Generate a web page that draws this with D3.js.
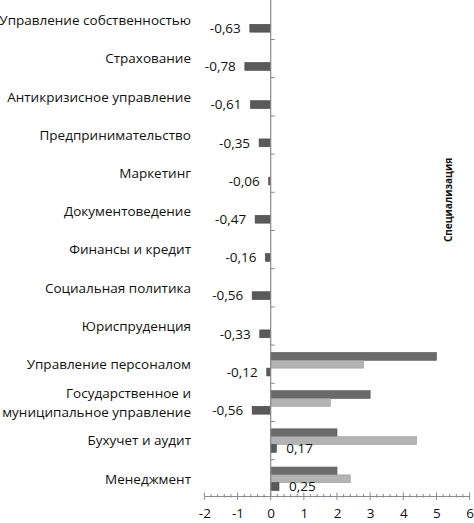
<!DOCTYPE html>
<html><head><meta charset="utf-8">
<script src="https://cdn.jsdelivr.net/npm/d3@7"></script>
<style>
html,body{margin:0;padding:0;background:#fff;}
text{font-family:"Open Sans",sans-serif;fill:#111;}
</style></head>
<body>
<svg id="chart" width="474" height="523"></svg>
<script>
const categories = [
  ["Управление собственностью"],
  ["Страхование"],
  ["Антикризисное управление"],
  ["Предпринимательство"],
  ["Маркетинг"],
  ["Документоведение"],
  ["Финансы и кредит"],
  ["Социальная политика"],
  ["Юриспруденция"],
  ["Управление персоналом"],
  ["Государственное и", "муниципальное управление"],
  ["Бухучет и аудит"],
  ["Менеджмент"]
];
const series1 = [null,null,null,null,null,null,null,null,null,5,3,2,2];
const series2 = [null,null,null,null,null,null,null,null,null,2.8,1.8,4.4,2.4];
const series3 = [-0.63,-0.78,-0.61,-0.35,-0.06,-0.47,-0.16,-0.56,-0.33,-0.12,-0.56,0.17,0.25];
const xTicks = [-2,-1,0,1,2,3,4,5,6];
const axisTitle = "Специализация";

const svg = d3.select("#chart");
const x = d3.scaleLinear().domain([-2,6]).range([204.4,469.6]);
const ids = categories.map((c,i)=>i);
const y = d3.scaleBand().domain(ids).range([1.3,497.9]).paddingInner(0).paddingOuter(0);
const bw = y.bandwidth();
const sub = d3.scaleBand().domain([0,1,2]).range([bw*0.1925, bw*0.8075]);
const colors = ["#6a6a6a","#b3b3b3","#5a5a5a"];
const strokes = ["#555","#9a9a9a","#444"];
const fmt = v => d3.format(".2f")(v).replace(".",",").replace("\u2212","-");

const allSeries = [series1, series2, series3];
allSeries.forEach((s,si)=>{
  svg.append("g").selectAll("rect").data(s.map((v,i)=>({v,i})).filter(d=>d.v!==null))
    .enter().append("rect")
    .attr("x", d=>x(Math.min(0,d.v)))
    .attr("width", d=>Math.abs(x(d.v)-x(0)))
    .attr("y", d=>y(d.i)+sub(si))
    .attr("height", sub.bandwidth())
    .attr("fill", colors[si])
    .attr("stroke", strokes[si]).attr("stroke-width",0.6);
});

// value labels for series3
svg.append("g").selectAll("text").data(series3.map((v,i)=>({v,i})))
  .enter().append("text")
  .attr("x", d=> d.v<0 ? x(d.v)-9 : x(d.v)+10)
  .attr("y", d=>y(d.i)+sub(2)+sub.bandwidth()/2)
  .attr("dy","0.36em")
  .attr("text-anchor", d=> d.v<0 ? "end" : "start")
  .style("font-size","13.5px")
  .text(d=>fmt(d.v));

// category labels
const cl = svg.append("g").selectAll("text").data(categories.map((c,i)=>({c,i})))
  .enter().append("text")
  .attr("text-anchor","end")
  .style("font-size","13.5px")
  .attr("transform", d=>`translate(191,${y(d.i)+bw/2})`);
cl.each(function(d){
  const n = d.c.length;
  d3.select(this).selectAll("tspan").data(d.c).enter().append("tspan")
    .attr("x",0)
    .attr("y",(t,j)=>(j-(n-1)/2)*19)
    .attr("dy","0.36em")
    .text(t=>t);
});

// vertical axis at 0
const x0 = x(0);
svg.append("line").attr("x1",x0).attr("x2",x0).attr("y1",0).attr("y2",496)
  .attr("stroke","#8a8a8a").attr("stroke-width",1.2);
svg.append("g").selectAll("line").data(ids.slice(1))
  .enter().append("line")
  .attr("x1",x0).attr("x2",x0+4)
  .attr("y1",d=>y(d)).attr("y2",d=>y(d))
  .attr("stroke","#8a8a8a").attr("stroke-width",1);

// horizontal axis
const axisY = 496;
const xAxis = d3.axisBottom(x).tickValues(xTicks).tickSize(0).tickPadding(12)
  .tickFormat(d=>String(d).replace("\u2212","-"));
const gx = svg.append("g").attr("transform",`translate(0,${axisY})`).call(xAxis);
gx.select(".domain").attr("stroke","#8a8a8a").attr("stroke-width",1.2);
gx.selectAll("text").style("font-size","13.5px").style("font-family","\"Open Sans\",sans-serif").attr("fill","#111");
const minor = d3.range(-2,6.001,0.2);
svg.append("g").selectAll("line").data(minor).enter().append("line")
  .attr("x1",d=>x(d)).attr("x2",d=>x(d))
  .attr("y1",d=> Math.abs(d-Math.round(d))<1e-6 ? axisY-3.5 : axisY-2)
  .attr("y2",d=> Math.abs(d-Math.round(d))<1e-6 ? axisY+4 : axisY+1.5)
  .attr("stroke","#8a8a8a").attr("stroke-width",1);

// right axis title
svg.append("text")
  .attr("transform","translate(448,200) rotate(-90)")
  .attr("text-anchor","middle").attr("dy","0.36em")
  .style("font-size","10px").style("font-weight","bold")
  .text(axisTitle);
</script>
</body></html>
